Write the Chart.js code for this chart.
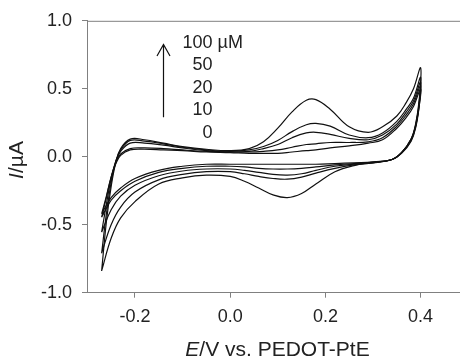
<!DOCTYPE html>
<html>
<head>
<meta charset="utf-8">
<script src="https://cdn.jsdelivr.net/npm/chart.js@4.4.0/dist/chart.umd.min.js"></script>
<style>
  html, body { margin: 0; padding: 0; background: #fff; }
  #wrap { position: relative; width: 460px; height: 356px; }
</style>
</head>
<body>
<div id="wrap"><canvas id="cvChart"></canvas></div>
<script>
// potential grid (V) for the anodic (forward) and cathodic (reverse) sweeps
const forwardE = [-0.27, -0.26, -0.25, -0.24, -0.23, -0.21, -0.18, -0.14, -0.10, -0.05, 0.0, 0.04, 0.07, 0.10, 0.13, 0.16, 0.18, 0.21, 0.25, 0.29, 0.32, 0.35, 0.37, 0.385, 0.40];
const reverseE = [0.40, 0.397, 0.39, 0.38, 0.36, 0.34, 0.30, 0.26, 0.22, 0.18, 0.15, 0.12, 0.09, 0.06, 0.03, 0.0, -0.05, -0.10, -0.15, -0.20, -0.23, -0.25, -0.27];

// currents (uA)
const fwd0   = [-0.42, -0.29, -0.15, -0.05, 0.01, 0.05, 0.055, 0.05, 0.045, 0.035, 0.03, 0.025, 0.025, 0.025, 0.035, 0.045, 0.05, 0.065, 0.08, 0.10, 0.125, 0.21, 0.29, 0.37, 0.50];
const rev0   = [0.50, 0.37, 0.22, 0.115, 0.025, -0.02, -0.04, -0.045, -0.05, -0.055, -0.055, -0.055, -0.055, -0.055, -0.055, -0.055, -0.055, -0.07, -0.10, -0.16, -0.23, -0.30, -0.42];
const fwd10  = [-0.445, -0.30, -0.15, -0.04, 0.02, 0.06, 0.065, 0.06, 0.05, 0.04, 0.035, 0.035, 0.04, 0.05, 0.07, 0.09, 0.095, 0.105, 0.105, 0.11, 0.14, 0.225, 0.31, 0.39, 0.525];
const rev10  = [0.525, 0.38, 0.23, 0.12, 0.03, -0.02, -0.04, -0.05, -0.06, -0.075, -0.085, -0.09, -0.09, -0.085, -0.075, -0.07, -0.07, -0.085, -0.115, -0.18, -0.25, -0.32, -0.445];
const fwd20  = [-0.555, -0.35, -0.16, -0.03, 0.04, 0.10, 0.10, 0.085, 0.065, 0.045, 0.035, 0.04, 0.06, 0.09, 0.14, 0.175, 0.18, 0.165, 0.135, 0.125, 0.16, 0.24, 0.33, 0.41, 0.55];
const rev20  = [0.55, 0.39, 0.235, 0.125, 0.03, -0.02, -0.045, -0.055, -0.07, -0.10, -0.125, -0.135, -0.13, -0.115, -0.10, -0.09, -0.09, -0.105, -0.14, -0.21, -0.29, -0.39, -0.555];
const fwd50  = [-0.71, -0.42, -0.19, -0.03, 0.05, 0.12, 0.115, 0.095, 0.07, 0.05, 0.04, 0.05, 0.075, 0.12, 0.185, 0.235, 0.245, 0.225, 0.16, 0.14, 0.175, 0.26, 0.35, 0.43, 0.585];
const rev50  = [0.585, 0.40, 0.24, 0.13, 0.03, -0.02, -0.045, -0.06, -0.085, -0.12, -0.15, -0.165, -0.16, -0.145, -0.125, -0.11, -0.11, -0.13, -0.17, -0.26, -0.37, -0.50, -0.71];
const fwd100 = [-0.84, -0.48, -0.22, -0.04, 0.06, 0.13, 0.125, 0.10, 0.075, 0.055, 0.045, 0.06, 0.11, 0.21, 0.33, 0.415, 0.42, 0.35, 0.22, 0.18, 0.22, 0.30, 0.40, 0.50, 0.655];
const rev100 = [0.655, 0.42, 0.25, 0.13, 0.03, -0.02, -0.04, -0.065, -0.11, -0.20, -0.27, -0.30, -0.28, -0.23, -0.18, -0.145, -0.135, -0.155, -0.20, -0.33, -0.45, -0.60, -0.84];

const concLabels = ['100', '50', '20', '10', '0'];
const xTicks = [-0.2, 0.0, 0.2, 0.4];
const yTicks = [-1.0, -0.5, 0.0, 0.5, 1.0];

const loops = [
    [fwd0, rev0], [fwd10, rev10], [fwd20, rev20], [fwd50, rev50], [fwd100, rev100]
];

// one closed loop per concentration
function toPoints(fwd, rev) {
    const pts = forwardE.map((e, i) => ({ x: e, y: fwd[i] }));
    reverseE.slice(1).forEach((e, i) => pts.push({ x: e, y: rev[i + 1] }));
    return pts;
}

const FONT = "'Liberation Sans', Arial, Helvetica, sans-serif";
const TEXT = '#222';
const AXIS = '#808080';

// top frame line, arrow, concentration labels and axis titles
const decorPlugin = {
    id: 'decor',
    afterDraw(chart) {
        const { ctx, chartArea, scales } = chart;
        const xs = scales.x, ys = scales.y;
        ctx.save();

        ctx.strokeStyle = AXIS;
        ctx.lineWidth = 1;
        ctx.beginPath();
        ctx.moveTo(chartArea.left, chartArea.top + 0.5);
        ctx.lineTo(chartArea.right, chartArea.top + 0.5);
        ctx.stroke();

        // arrow
        const ax = Math.round(xs.getPixelForValue(-0.142)) + 0.5;
        const aTop = ys.getPixelForValue(0.826);
        const aBot = ys.getPixelForValue(0.29);
        ctx.strokeStyle = '#111';
        ctx.lineWidth = 1.2;
        ctx.beginPath();
        ctx.moveTo(ax, aBot);
        ctx.lineTo(ax, aTop);
        ctx.moveTo(ax - 6.5, aTop + 11.5);
        ctx.lineTo(ax, aTop);
        ctx.lineTo(ax + 6.5, aTop + 11.5);
        ctx.stroke();

        // labels
        ctx.fillStyle = TEXT;
        ctx.font = '18px ' + FONT;
        ctx.textBaseline = 'middle';
        const lx = xs.getPixelForValue(-0.037);
        const rowTop = ys.getPixelForValue(0.838);
        concLabels.forEach((t, i) => {
            const ly = rowTop + i * 22.5;
            ctx.textAlign = 'right';
            ctx.fillText(t, lx, ly);
            if (i === 0) {
                ctx.textAlign = 'left';
                ctx.fillText('\u00b5M', lx + 5, ly);
            }
        });

        // x title
        ctx.textBaseline = 'alphabetic';
        ctx.textAlign = 'left';
        ctx.font = 'italic 21px ' + FONT;
        const wE = ctx.measureText('E').width;
        ctx.font = '21px ' + FONT;
        const rest = '/V vs. PEDOT-PtE';
        const wR = ctx.measureText(rest).width;
        let tx = 277.5 - (wE + wR) / 2;
        ctx.font = 'italic 21px ' + FONT;
        ctx.fillText('E', tx, 356);
        ctx.font = '21px ' + FONT;
        ctx.fillText(rest, tx + wE, 356);

        // y title
        ctx.translate(23, 160);
        ctx.rotate(-Math.PI / 2);
        ctx.font = 'italic 21px ' + FONT;
        const wI = ctx.measureText('I').width;
        ctx.font = '21px ' + FONT;
        const restY = '/\u00b5A';
        const wY = ctx.measureText(restY).width;
        tx = -(wI + wY) / 2;
        ctx.font = 'italic 21px ' + FONT;
        ctx.fillText('I', tx, 0);
        ctx.font = '21px ' + FONT;
        ctx.fillText(restY, tx + wI, 0);

        ctx.restore();
    }
};

Chart.defaults.font.family = FONT;
Chart.defaults.font.size = 18;
Chart.defaults.color = TEXT;

new Chart(document.getElementById('cvChart'), {
    type: 'scatter',
    data: {
        datasets: loops.map(([f, r]) => ({
            data: toPoints(f, r),
            showLine: true,
            borderColor: '#111',
            borderWidth: 1.2,
            pointRadius: 0,
            tension: 0.4,
            fill: false
        }))
    },
    options: {
        responsive: true,
        maintainAspectRatio: false,
        animation: false,
        events: [],
        layout: { padding: { left: 0, right: 0, top: 20, bottom: 0 } },
        plugins: { legend: { display: false }, tooltip: { enabled: false } },
        scales: {
            x: {
                type: 'linear',
                min: -0.3007,
                max: 0.4827,
                afterBuildTicks: s => { s.ticks = xTicks.map(v => ({ value: v })); },
                afterFit: s => { s.height = 63.3; },
                ticks: { padding: 9, callback: v => v.toFixed(1), maxRotation: 0 },
                grid: { drawOnChartArea: false, drawTicks: true, tickLength: 5, color: AXIS },
                border: { display: true, color: AXIS, width: 1 }
            },
            y: {
                type: 'linear',
                min: -1,
                max: 1,
                afterBuildTicks: s => { s.ticks = yTicks.map(v => ({ value: v })); },
                afterFit: s => { s.width = 87; },
                ticks: { padding: 10, callback: v => v.toFixed(1) },
                grid: { drawOnChartArea: false, drawTicks: true, tickLength: 5, color: AXIS },
                border: { display: true, color: AXIS, width: 1 }
            }
        }
    },
    plugins: [decorPlugin]
});
</script>
</body>
</html>
